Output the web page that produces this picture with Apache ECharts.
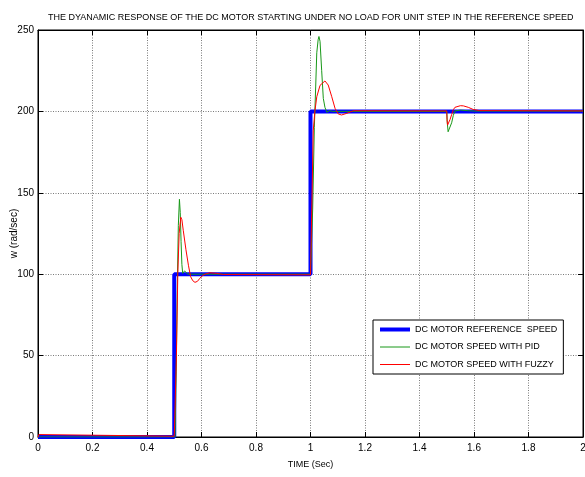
<!DOCTYPE html>
<html>
<head>
<meta charset="utf-8">
<script src="https://cdn.jsdelivr.net/npm/echarts@6/dist/echarts.min.js"></script>
<style>html,body{margin:0;padding:0;background:#fff}#c{width:585px;height:477px}</style>
</head>
<body>
<div id="c"></div>
<script>
const titleText = 'THE DYANAMIC RESPONSE OF THE DC MOTOR STARTING UNDER NO LOAD FOR UNIT STEP IN THE REFERENCE SPEED';
const xName = 'TIME (Sec)';
const yName = 'w (rad/sec)';
const seriesNames = ['DC MOTOR REFERENCE  SPEED', 'DC MOTOR SPEED WITH PID', 'DC MOTOR SPEED WITH FUZZY'];

const refT = [0, 0.5, 0.5, 1.0, 1.0, 2.0];
const refW = [0, 0, 100, 100, 200, 200];

const pidT = [0, 0.503, 0.507, 0.511, 0.515, 0.519, 0.522, 0.525, 0.528, 0.531, 0.534, 0.538, 0.542, 0.55, 0.6,
  1.0, 1.003, 1.008, 1.014, 1.019, 1.023, 1.028, 1.031, 1.035, 1.041, 1.047, 1.053, 1.06, 1.07, 1.08, 1.5,
  1.502, 1.505, 1.508, 1.512, 1.518, 1.524, 1.53, 1.537, 1.55, 1.58, 1.6, 2.0];
const pidW = [0, 0, 40, 90, 130, 146, 138, 120, 106, 100.5, 101.5, 102, 101, 100, 100,
  100, 100, 140, 190, 215, 236, 244, 246, 243, 225, 208, 202.5, 199.5, 200.5, 200, 200,
  193, 187.5, 186.5, 188.5, 193, 197.5, 200.3, 201, 200.8, 200.4, 200.2, 200.2];

const fuzT = [0, 0.003, 0.008, 0.5, 0.502, 0.508, 0.513, 0.518, 0.524, 0.528, 0.533, 0.543, 0.552, 0.56, 0.568, 0.576,
  0.585, 0.594, 0.603, 0.613, 0.631, 0.656, 0.68, 1.0, 1.003, 1.010, 1.016, 1.023, 1.035, 1.053, 1.065, 1.078,
  1.09, 1.102, 1.114, 1.133, 1.157, 1.2, 1.5, 1.501, 1.503, 1.507, 1.512, 1.518, 1.524, 1.53, 1.536, 1.55, 1.561,
  1.579, 1.597, 1.62, 2.0];
const fuzW = [0, 1.5, 0.5, 0.5, 0, 50, 100, 125, 135, 133.5, 127, 115, 105.5, 98.5, 96, 95,
  95.6, 97.5, 99, 100, 100.9, 100.5, 99.8, 99.6, 100, 188, 200, 209, 216, 218.7, 216.2, 209,
  201.9, 198.4, 197.8, 198.8, 200.4, 200.4, 200.3, 195, 191.6, 192.5, 195, 198, 201, 202.5, 203.3, 203.5, 203.4,
  202.5, 201.2, 200.5, 200.3];

const xMin = 0, xMax = 2, xStep = 0.2;
const yMin = 0, yMax = 250, yStep = 50;

function pairs(t, w) { return t.map((v, i) => [v, w[i]]); }

const font = 'Liberation Sans, Arial, sans-serif';
const chart = echarts.init(document.getElementById('c'), null, {renderer: 'canvas'});

const splitLine = {show: true, lineStyle: {color: '#7a7a7a', type: [1, 1.5], width: 1}};
const axLine = {show: true, onZero: false, lineStyle: {color: '#000', width: 1}};
const tick = {show: true, inside: true, length: 5, lineStyle: {color: '#000'}};

chart.setOption({
  animation: false,
  backgroundColor: '#fff',
  title: {
    text: titleText, left: 43, top: 8,
    textStyle: {fontFamily: font, fontSize: 9, fontWeight: 'normal', color: '#000'}
  },
  grid: {left: 38, right: 2, top: 30, bottom: 40, containLabel: false, outerBoundsMode: 'none',
    show: true, borderColor: '#000', borderWidth: 1, backgroundColor: '#fff'},
  xAxis: [{
    type: 'value', min: xMin, max: xMax, interval: xStep, position: 'bottom',
    name: xName, nameLocation: 'middle', nameGap: 23, nameMoveOverlap: false,
    nameTextStyle: {fontFamily: font, fontSize: 9, color: '#000'},
    axisLine: axLine, axisTick: tick, splitLine: splitLine,
    axisLabel: {fontFamily: font, fontSize: 10, color: '#000', margin: 6, hideOverlap: false, showMaxLabel: true}
  }, {
    type: 'value', min: xMin, max: xMax, interval: xStep, position: 'top',
    axisLine: axLine, axisTick: tick, splitLine: {show: false}, axisLabel: {show: false}
  }],
  yAxis: [{
    type: 'value', min: yMin, max: yMax, interval: yStep, position: 'left',
    name: yName, nameLocation: 'middle', nameGap: 19, nameMoveOverlap: false,
    nameTextStyle: {fontFamily: font, fontSize: 10, color: '#000'},
    axisLine: axLine, axisTick: tick, splitLine: splitLine,
    axisLabel: {fontFamily: font, fontSize: 10, color: '#000', margin: 4}
  }, {
    type: 'value', min: yMin, max: yMax, interval: yStep, position: 'right',
    axisLine: axLine, axisTick: tick, splitLine: {show: false}, axisLabel: {show: false}
  }],
  legend: {
    orient: 'vertical', left: 373, top: 320,
    padding: [5, 6, 5, 5], itemGap: 8.5, itemWidth: 30, itemHeight: 11,
    borderColor: '#000', borderWidth: 1, backgroundColor: '#fff',
    itemStyle: {opacity: 0},
    textStyle: {fontFamily: font, fontSize: 9, color: '#000'},
    data: [
      {name: seriesNames[0], lineStyle: {width: 4}},
      {name: seriesNames[1], lineStyle: {width: 1}},
      {name: seriesNames[2], lineStyle: {width: 1}}
    ]
  },
  series: [
    {name: seriesNames[0], type: 'line', data: pairs(refT, refW), symbol: 'none',
      lineStyle: {color: '#0000ff', width: 4}, itemStyle: {color: '#0000ff'}, z: 2},
    {name: seriesNames[1], type: 'line', data: pairs(pidT, pidW), symbol: 'none',
      lineStyle: {color: '#189818', width: 1}, itemStyle: {color: '#189818'}, z: 3},
    {name: seriesNames[2], type: 'line', data: pairs(fuzT, fuzW), symbol: 'none',
      lineStyle: {color: '#ff0000', width: 1}, itemStyle: {color: '#ff0000'}, z: 4}
  ]
});
</script>
</body>
</html>
